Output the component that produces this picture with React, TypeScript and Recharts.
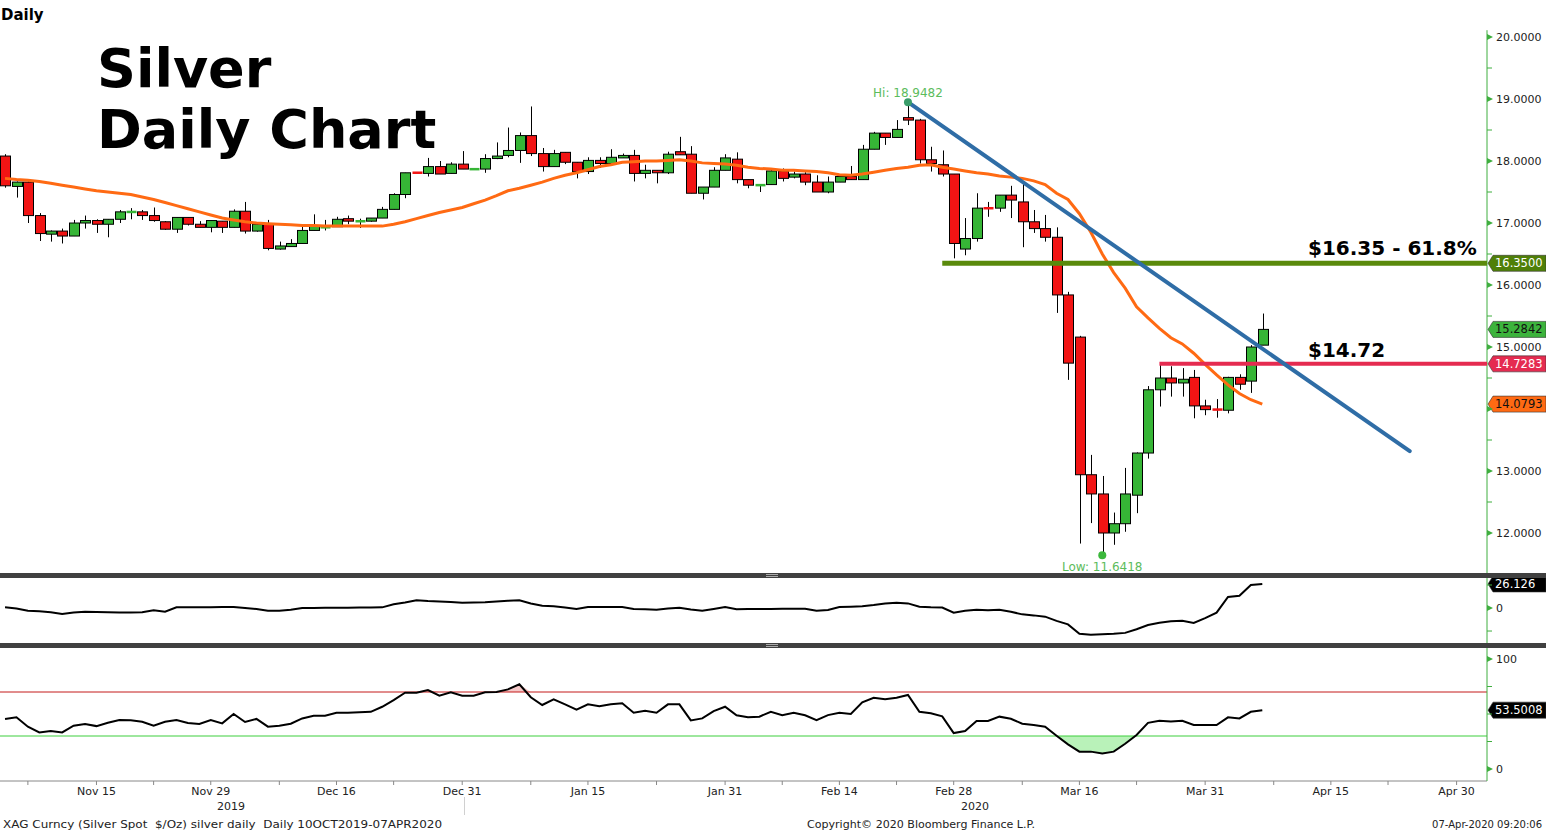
import React from 'react'
import {
  ComposedChart,
  Bar,
  Line,
  Area,
  XAxis,
  YAxis,
  ReferenceLine,
  ReferenceDot,
} from 'recharts'

// daily candles, 05 Nov 2019 .. 07 Apr 2020 (one per weekday)
const opens = [
  18.08, 17.59, 17.66, 17.12, 16.82, 16.87, 16.79, 17.0, 17.04, 16.98,
  17.06, 17.18, 17.18, 17.12, 17.02, 16.9, 17.09, 16.98, 16.93, 17.03,
  16.93, 17.19, 16.87, 16.98, 16.58, 16.62, 16.67, 16.88, 16.93, 16.94,
  17.07, 17.03, 17.03, 17.08, 17.22, 17.46, 17.82, 17.8, 17.91, 17.8,
  17.95, 17.87, 17.87, 18.04, 18.09, 18.17, 18.41, 18.12, 17.91, 18.14,
  17.98, 17.83, 18.01, 17.96, 18.05, 18.09, 17.8, 17.85, 17.81, 18.15,
  18.11, 17.48, 17.58, 17.85, 18.03, 17.7, 17.61, 17.62, 17.84, 17.74,
  17.79, 17.66, 17.5, 17.66, 17.75, 17.7, 18.19, 18.45, 18.38, 18.7,
  18.66, 18.02, 17.94, 17.79, 16.58, 16.75, 17.245, 17.24, 17.45, 17.34,
  17.02, 16.91, 16.77, 15.84, 15.16, 12.94, 12.63, 12.0, 12.15, 12.61,
  13.29, 14.31, 14.5, 14.42, 14.51, 14.05, 14.0, 13.98, 14.51, 14.45,
  15.03,
]
const highs = [
  18.11, 17.67, 17.67, 17.16, 16.88, 16.91, 17.05, 17.12, 17.06, 17.06,
  17.21, 17.24, 17.21, 17.25, 17.03, 17.09, 17.09, 17.03, 17.04, 17.03,
  17.22, 17.34, 16.98, 17.05, 16.7, 16.74, 16.94, 17.14, 17.05, 17.1,
  17.12, 17.07, 17.08, 17.26, 17.48, 17.81, 17.82, 18.05, 18.0, 17.98,
  18.16, 17.88, 18.11, 18.3, 18.54, 18.46, 18.88, 18.21, 18.18, 18.14,
  17.98, 18.06, 18.06, 18.19, 18.12, 18.18, 17.94, 17.85, 18.15, 18.39,
  18.24, 17.58, 17.9, 18.11, 18.14, 17.7, 17.62, 17.88, 17.88, 17.83,
  17.82, 17.77, 17.75, 17.75, 17.92, 18.26, 18.47, 18.45, 18.66, 18.9482,
  18.68, 18.23, 18.17, 17.79, 17.08, 17.48, 17.34, 17.45, 17.6, 17.63,
  17.21, 17.13, 16.93, 15.89, 15.18, 13.26, 12.92, 12.33, 13.05, 13.3,
  14.37, 14.74, 14.69, 14.66, 14.63, 14.15, 14.16, 14.52, 14.56, 15.03,
  15.54,
]
const lows = [
  17.57, 17.41, 17.0, 16.71, 16.7, 16.67, 16.79, 16.91, 16.84, 16.77,
  17.0, 17.06, 17.05, 17.02, 16.89, 16.84, 16.96, 16.93, 16.85, 16.84,
  16.93, 16.83, 16.86, 16.56, 16.57, 16.62, 16.67, 16.88, 16.88, 16.94,
  16.98, 16.92, 17.02, 17.08, 17.22, 17.4, 17.81, 17.75, 17.79, 17.8,
  17.87, 17.86, 17.81, 18.03, 18.06, 17.97, 18.08, 17.83, 17.91, 17.95,
  17.72, 17.79, 17.89, 17.96, 18.05, 17.67, 17.72, 17.64, 17.79, 18.1,
  17.48, 17.38, 17.58, 17.85, 17.64, 17.56, 17.5, 17.62, 17.67, 17.72,
  17.61, 17.5, 17.48, 17.66, 17.7, 17.7, 18.19, 18.26, 18.38, 18.58,
  17.96, 17.83, 17.75, 16.43, 16.48, 16.7, 17.1, 17.18, 17.08, 16.61,
  16.84, 16.7, 15.55, 14.47, 11.83, 12.16, 11.6418, 11.81, 12.02, 12.32,
  13.2, 14.04, 14.2, 14.2, 13.85, 13.9, 13.86, 13.93, 14.31, 14.26,
  15.03,
]
const closes = [
  17.6, 17.66, 17.12, 16.83, 16.87, 16.79, 17.0, 17.04, 16.98, 17.06,
  17.18, 17.185, 17.12, 17.04, 16.9, 17.09, 16.98, 16.93, 17.04, 16.93,
  17.19, 16.87, 16.98, 16.59, 16.63, 16.67, 16.88, 16.96, 16.94, 17.06,
  17.03, 17.035, 17.08, 17.22, 17.46, 17.81, 17.81, 17.91, 17.79, 17.95,
  17.87, 17.875, 18.04, 18.08, 18.17, 18.41, 18.12, 17.91, 18.12, 17.98,
  17.83, 18.01, 17.96, 18.06, 18.09, 17.8, 17.85, 17.81, 18.11, 18.1,
  17.48, 17.58, 17.85, 18.05, 17.7, 17.61, 17.62, 17.84, 17.72, 17.79,
  17.66, 17.5, 17.66, 17.75, 17.7, 18.19, 18.45, 18.38, 18.51, 18.66,
  18.02, 17.96, 17.79, 16.67, 16.75, 17.24, 17.24, 17.45, 17.37, 17.02,
  16.91, 16.77, 15.84, 14.74, 12.94, 12.63, 12.0, 12.15, 12.63, 13.29,
  14.31, 14.5, 14.42, 14.48, 14.05, 13.99, 13.99, 14.51, 14.4, 15.0,
  15.2842,
]
// orange moving average
const maValues = [
  17.72, 17.7, 17.69, 17.67, 17.64, 17.61, 17.58, 17.55, 17.52, 17.5,
  17.48, 17.46, 17.42, 17.38, 17.33, 17.28, 17.23, 17.18, 17.13, 17.08,
  17.05, 17.02, 17.0, 16.99, 16.98, 16.97, 16.96, 16.96, 16.95, 16.95,
  16.95, 16.95, 16.95, 16.95, 16.98, 17.02, 17.07, 17.12, 17.17, 17.21,
  17.25, 17.31, 17.37, 17.44, 17.52, 17.56, 17.61, 17.66, 17.72, 17.77,
  17.81, 17.86, 17.91, 17.94, 17.98, 17.99, 18.0, 18.0, 18.01, 18.02,
  18.0, 17.97, 17.96, 17.95, 17.93, 17.9, 17.88, 17.87, 17.85, 17.85,
  17.84, 17.83, 17.81, 17.78, 17.77, 17.79, 17.82, 17.85, 17.88, 17.9,
  17.93, 17.94, 17.9, 17.87, 17.84, 17.81, 17.79, 17.76, 17.74, 17.72,
  17.68, 17.62, 17.48, 17.38, 17.15, 16.85, 16.5, 16.2, 15.95, 15.65,
  15.47, 15.3, 15.15, 15.05, 14.9, 14.72, 14.55, 14.39, 14.25, 14.15,
  14.0793,
]
// middle panel oscillator
const oscValues = [
  0.7, -0.5, -2.9, -3.5, -4.5, -6.5, -5, -4, -4.3, -4.5,
  -5, -5, -4.5, -2.5, -4, 0.7, 0.7, 0.7, 0.8, 1,
  1, 0, -1, -3, -3, -2, 0, 0, 0.2, 0.3,
  0.4, 0.5, 0.6, 0.7, 4, 6, 8.3, 7.6, 7.2, 6.5,
  5.8, 6, 6.2, 7, 7.8, 8.3, 5, 2.5, 1.8, 0.5,
  -1, 1, 1, 1, 1, -1, -1.4, -1.8, -0.5, 0.4,
  -1.5, -3, -1, 1, -1.4, -1.2, -1, -1, -0.8, -0.7,
  -0.7, -3, -2.2, 1, 1.5, 2, 3.3, 5, 5.8, 5,
  1.4, 0.8, 0.5, -5, -3, -1.8, -2.5, -1.8, -4, -6.9,
  -8, -9.4, -14, -17.8, -27.9, -29, -28.5, -28, -27, -23,
  -18.5, -16, -14.5, -13.8, -16.3, -11, -5, 12, 13.4, 25,
  26.126,
]
// bottom panel RSI
const rsiValues = [
  45.5, 47, 38.5, 33.3, 34.5, 33.3, 39.4, 41, 39, 42,
  44.5, 44.3, 43, 39.4, 43, 44.5, 41.8, 41, 44.5, 41.5,
  50, 42.7, 45.5, 38.5, 39.4, 41.2, 46, 48.5, 48.5, 51.2,
  51.2, 51.6, 52, 56.6, 62.7, 69.4, 69.4, 71.8, 66.6, 69.7,
  66.6, 66.6, 69.7, 70, 72.4, 77, 65.2, 58.2, 63.4, 58.8,
  54, 58.8, 57, 58.8, 59.7, 51.2, 53, 51.2, 58.8, 58.8,
  44.2, 46, 52.7, 56.6, 48.8, 47, 47.6, 52, 49, 51.2,
  48.8, 44.5, 49, 51.2, 50, 60.6, 64.8, 63.4, 64.8, 67.3,
  52, 50.6, 47.9, 32.7, 34.5, 43.6, 43.6, 47.6, 45.7, 41.2,
  40, 38.5, 30.3, 22.4, 15.8, 15.8, 14.2, 15.8, 23, 30.9,
  42, 43.9, 43.3, 43.9, 40, 40, 40, 47, 46, 52,
  53.5008,
]

const priceTicks = [12, 12.5, 13, 13.5, 14, 14.5, 15, 15.5, 16, 16.5, 17, 17.5, 18, 18.5, 19, 19.5, 20]
const oscTicks = [-25, 0, 25]
const rsiTicks = [0, 25, 50, 75, 100]
// x ticks are trading-day positions; some of them carry a date label
const xTickIdx = [2, 8, 13, 18, 24, 29, 34, 40, 46, 51, 57, 63, 68, 73, 78, 83, 89, 94, 99, 105, 111, 116, 121, 127]
const xLabelIdx = [8, 18, 29, 40, 51, 63, 73, 83, 94, 105, 116, 127]
const xLabelText = ['Nov 15', 'Nov 29', 'Dec 16', 'Dec 31', 'Jan 15', 'Jan 31', 'Feb 14', 'Feb 28', 'Mar 16', 'Mar 31', 'Apr 15', 'Apr 30']

const HI = { idx: 79, value: 18.9482 }
const LOW = { idx: 96, value: 11.6418 }
const TREND = { x1: 79, y1: 18.9482, x2: 122.9, y2: 13.32 }
const FIB_LEVEL = { from: 82, value: 16.35 }
const RESIST_LEVEL = { from: 101, value: 14.7283 }

const X_DOMAIN: [number, number] = [-0.44, 129.66]
const PRICE_DOMAIN: [number, number] = [11.355, 20.597]
const PRICE_AXIS_TOP = 20.11
const OSC_DOMAIN: [number, number] = [-38, 32.6]
const RSI_DOMAIN: [number, number] = [-10.9, 110]

const GREEN = '#36b536'
const RED = '#f21414'
const ORANGE = '#ff6a13'
const AXIS_GREEN = '#3fae3f'
const FONT = "'DejaVu Sans', sans-serif"

function weekdays(start: string, n: number) {
  const out: string[] = []
  const d = new Date(start + 'T00:00:00')
  while (out.length < n) {
    const wd = d.getDay()
    if (wd !== 0 && wd !== 6) out.push(d.toISOString().slice(0, 10))
    d.setDate(d.getDate() + 1)
  }
  return out
}
const dates = weekdays('2019-11-05', closes.length)

const rows = closes.map((c, i) => ({
  i,
  date: dates[i],
  open: opens[i],
  high: highs[i],
  low: lows[i],
  close: c,
  ma: maValues[i],
  osc: oscValues[i],
  rsi: rsiValues[i],
}))

const Candle = (props: any) => {
  const { x, y, width, height, payload } = props
  if (!payload) return null
  const { open, close, high, low } = payload
  const k = high > low ? height / (high - low) : 0
  const cx = Math.round(x + width / 2) + 0.5
  const top = y + (high - Math.max(open, close)) * k
  const bot = y + (high - Math.min(open, close)) * k
  const color = close >= open ? GREEN : RED
  const bodyH = bot - top
  return (
    <g>
      <line x1={cx} x2={cx} y1={y} y2={y + height} stroke="#000" strokeWidth={1} />
      {bodyH < 2 ? (
        <rect x={cx - 5} y={(top + bot) / 2 - 1} width={10} height={2.5} fill={color} />
      ) : (
        <rect x={cx - 5} y={top} width={10} height={bodyH} fill={color} stroke="#000" strokeWidth={1} />
      )}
    </g>
  )
}

const Tag = ({ viewBox, text, bg, fg }: any) => {
  if (!viewBox) return null
  const x = viewBox.x + viewBox.width
  const y = viewBox.y
  return (
    <g>
      <polygon
        points={`${x + 1},${y} ${x + 6},${y - 8} ${x + 59},${y - 8} ${x + 59},${y + 8} ${x + 6},${y + 8}`}
        fill={bg}
        stroke="#333"
        strokeWidth={0.6}
      />
      <text x={x + 8} y={y + 4} fontSize={11.5} fill={fg} fontFamily={FONT}>
        {text}
      </text>
    </g>
  )
}

const makeAxisTick = (labelled: number[], digits: number) => (p: any) => {
  const { x, y, payload } = p
  const v = payload.value
  const major = labelled.includes(v)
  return (
    <g>
      {Number.isInteger(v) && (major || digits === 4) ? (
        <polygon points={`${x},${y - 3} ${x + 6},${y} ${x},${y + 3}`} fill={AXIS_GREEN} />
      ) : (
        <line x1={x} x2={x + 5} y1={y} y2={y} stroke={AXIS_GREEN} />
      )}
      {major && (
        <text x={x + 9} y={y + 4} fontSize={11} fill="#222" fontFamily={FONT}>
          {digits ? v.toFixed(digits) : String(v)}
        </text>
      )}
    </g>
  )
}

// 14.0000 sits behind the orange MA tag
const priceTick = makeAxisTick([12, 13, 15, 16, 17, 18, 19, 20], 4)
const oscTick = makeAxisTick([0], 0)
const rsiTick = makeAxisTick([0, 100], 0)

const DateTick = (p: any) => {
  const { x, y, payload } = p
  const k = xLabelIdx.indexOf(payload.value)
  if (k < 0) return null
  return (
    <text x={x} y={y + 8} textAnchor="middle" fontSize={11} fill="#222" fontFamily={FONT}>
      {xLabelText[k]}
    </text>
  )
}

const Separator = ({ top }: { top: number }) => (
  <div style={{ position: 'absolute', left: 0, top, width: 1546, height: 5, background: '#404040' }}>
    <div style={{ position: 'absolute', left: 766, top: 1, width: 12, height: 1, background: '#aaa' }} />
    <div style={{ position: 'absolute', left: 766, top: 3, width: 12, height: 1, background: '#aaa' }} />
  </div>
)

export default function App() {
  const margin = { top: 0, right: 0, bottom: 0, left: 0 }
  return (
    <div
      style={{
        position: 'absolute',
        left: 0,
        top: 0,
        width: 1546,
        height: 832,
        background: '#fff',
        overflow: 'hidden',
        fontFamily: FONT,
      }}
    >
      <div style={{ position: 'absolute', left: 0, top: 0 }}>
        <ComposedChart width={1546} height={573} data={rows} margin={margin}>
          <XAxis type="number" dataKey="i" domain={X_DOMAIN} allowDataOverflow hide />
          <YAxis
            orientation="right"
            width={59}
            domain={PRICE_DOMAIN}
            allowDataOverflow
            ticks={priceTicks}
            interval={0}
            tickLine={false}
            tickSize={0}
            tickMargin={0}
            tick={priceTick}
            axisLine={false}
          />
          <ReferenceLine
            segment={[{ x: X_DOMAIN[1], y: PRICE_AXIS_TOP }, { x: X_DOMAIN[1], y: PRICE_DOMAIN[0] }]}
            stroke={AXIS_GREEN}
            strokeWidth={1}
          />
          <Bar
            dataKey={(d: any) => [d.low, d.high]}
            barSize={10}
            shape={(p: any) => <Candle {...p} />}
            isAnimationActive={false}
          />
          <Line dataKey="ma" stroke={ORANGE} strokeWidth={3} dot={false} activeDot={false} isAnimationActive={false} />
          <ReferenceLine
            segment={[{ x: FIB_LEVEL.from, y: FIB_LEVEL.value }, { x: X_DOMAIN[1], y: FIB_LEVEL.value }]}
            stroke="#5a8a0c"
            strokeWidth={5}
          />
          <ReferenceLine
            segment={[{ x: RESIST_LEVEL.from, y: RESIST_LEVEL.value }, { x: X_DOMAIN[1], y: RESIST_LEVEL.value }]}
            stroke="#e52b50"
            strokeWidth={4}
          />
          <ReferenceLine
            segment={[{ x: TREND.x1, y: TREND.y1 }, { x: TREND.x2, y: TREND.y2 }]}
            stroke="#2f6da6"
            strokeWidth={4}
            strokeLinecap="round"
          />
          <ReferenceDot
            x={HI.idx}
            y={HI.value}
            r={4}
            fill="#3a9d6a"
            stroke="none"
            label={{ value: 'Hi: 18.9482', position: 'top', offset: 1, fill: '#5cbc5c', fontSize: 12 }}
          />
          <ReferenceDot
            x={LOW.idx}
            y={LOW.value}
            r={4}
            fill="#3cb83c"
            stroke="none"
            label={{ value: 'Low: 11.6418', position: 'bottom', offset: 3, fill: '#5cbc5c', fontSize: 12 }}
          />
          <ReferenceLine y={16.35} stroke="none" label={<Tag text="16.3500" bg="#4f7f08" fg="#fff" />} />
          <ReferenceLine y={15.2842} stroke="none" label={<Tag text="15.2842" bg="#3cb33c" fg="#111" />} />
          <ReferenceLine y={14.7283} stroke="none" label={<Tag text="14.7283" bg="#e52b50" fg="#fff" />} />
          <ReferenceLine y={14.0793} stroke="none" label={<Tag text="14.0793" bg="#ff6a13" fg="#111" />} />
        </ComposedChart>
      </div>

      <div style={{ position: 'absolute', left: 0, top: 578 }}>
        <ComposedChart width={1546} height={65} data={rows} margin={margin}>
          <XAxis type="number" dataKey="i" domain={X_DOMAIN} allowDataOverflow hide />
          <YAxis
            orientation="right"
            width={59}
            domain={OSC_DOMAIN}
            allowDataOverflow
            ticks={oscTicks}
            interval={0}
            tickLine={false}
            tickSize={0}
            tickMargin={0}
            tick={oscTick}
            axisLine={{ stroke: AXIS_GREEN }}
          />
          <Line dataKey="osc" stroke="#000" strokeWidth={2} dot={false} activeDot={false} isAnimationActive={false} />
          <ReferenceLine y={26.126} stroke="none" label={<Tag text="26.126" bg="#000" fg="#fff" />} />
        </ComposedChart>
      </div>

      <div style={{ position: 'absolute', left: 0, top: 648 }}>
        <ComposedChart width={1546} height={155} data={rows} margin={margin}>
          <XAxis
            type="number"
            dataKey="i"
            domain={X_DOMAIN}
            allowDataOverflow
            ticks={xTickIdx}
            interval={0}
            height={22}
            tickSize={4}
            tick={(p: any) => <DateTick {...p} />}
            tickLine={{ stroke: '#888' }}
            axisLine={{ stroke: '#888' }}
          />
          <YAxis
            orientation="right"
            width={59}
            domain={RSI_DOMAIN}
            allowDataOverflow
            ticks={rsiTicks}
            interval={0}
            tickLine={false}
            tickSize={0}
            tickMargin={0}
            tick={rsiTick}
            axisLine={{ stroke: AXIS_GREEN }}
          />
          <Area
            dataKey={(d: any) => [Math.min(d.rsi, 30), 30]}
            stroke="none"
            fill="#b9f2b9"
            fillOpacity={1}
            activeDot={false}
            isAnimationActive={false}
          />
          <Area
            dataKey={(d: any) => [70, Math.max(d.rsi, 70)]}
            stroke="none"
            fill="#f5c9c9"
            fillOpacity={1}
            activeDot={false}
            isAnimationActive={false}
          />
          <ReferenceLine y={70} stroke="#c41a1a" strokeWidth={1} />
          <ReferenceLine y={30} stroke="#3ccf3c" strokeWidth={1} />
          <Line dataKey="rsi" stroke="#000" strokeWidth={2} dot={false} activeDot={false} isAnimationActive={false} />
          <ReferenceLine y={53.5008} stroke="none" label={<Tag text="53.5008" bg="#000" fg="#fff" />} />
        </ComposedChart>
      </div>

      <Separator top={573} />
      <Separator top={643} />

      <div style={{ position: 'absolute', left: 464, top: 797, width: 1, height: 18, background: '#d0d0d0' }} />

      <svg
        width={1546}
        height={832}
        style={{ position: 'absolute', left: 0, top: 0, pointerEvents: 'none' }}
        fontFamily={FONT}
      >
        <text x={1} y={20} fontSize={15} fontWeight="bold" fill="#000">Daily</text>
        <text x={97} y={87} fontSize={54} fontWeight="bold" fill="#000">Silver</text>
        <text x={97} y={148} fontSize={54} fontWeight="bold" fill="#000">Daily Chart</text>
        <text x={1308} y={255} fontSize={20} fontWeight="bold" fill="#000">$16.35 - 61.8%</text>
        <text x={1308} y={357} fontSize={20} fontWeight="bold" fill="#000">$14.72</text>
        <text x={231} y={810} fontSize={11} textAnchor="middle" fill="#222">2019</text>
        <text x={975} y={810} fontSize={11} textAnchor="middle" fill="#222">2020</text>
        <text x={3} y={828} fontSize={11} fill="#222" textLength={439} lengthAdjust="spacingAndGlyphs" style={{ whiteSpace: 'pre' }}>
          XAG Curncy (Silver Spot  $/Oz) silver daily  Daily 10OCT2019-07APR2020
        </text>
        <text x={807} y={828} fontSize={11} fill="#222" textLength={228} lengthAdjust="spacingAndGlyphs">
          Copyright© 2020 Bloomberg Finance L.P.
        </text>
        <text x={1542} y={828} fontSize={10} fill="#222" textAnchor="end">
          07-Apr-2020 09:20:06
        </text>
      </svg>
    </div>
  )
}
